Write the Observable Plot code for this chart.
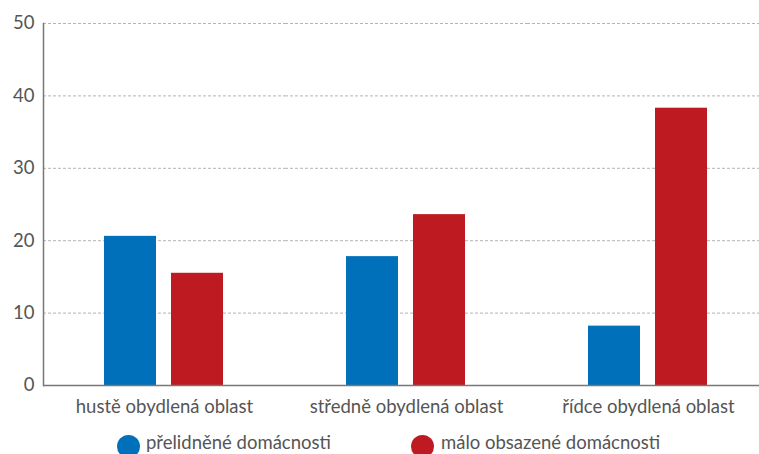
<!DOCTYPE html>
<html><head><meta charset="utf-8">
<script src="https://cdn.jsdelivr.net/npm/d3@7"></script>
<script src="https://cdn.jsdelivr.net/npm/@observablehq/plot@0.6"></script>
<style>
html,body{margin:0;padding:0;background:#fff;overflow:hidden;}
body{width:759px;height:454px;font-family:Lato,"Noto Sans",sans-serif;color:#555;}
#chart{height:428px;}
#legend{position:relative;height:26px;}
.sw{position:absolute;top:7px;width:23px;height:23px;border-radius:50%;}
.lab{position:absolute;top:5px;font-size:18.5px;line-height:18px;white-space:nowrap;color:#555;}
</style></head><body><div id="chart"></div><div id="legend"></div><script>
const categories = ["hustě obydlená oblast", "středně obydlená oblast", "řídce obydlená oblast"];
const seriesNames = ["přelidněné domácnosti", "málo obsazené domácnosti"];
const overcrowded = [20.6, 17.8, 8.2];
const underoccupied = [15.5, 23.6, 38.3];
const yTicks = [0, 10, 20, 30, 40, 50];
const colors = ["#0070ba", "#be1a21"];

const data = categories.flatMap((c, i) => [
  {cat: c, series: seriesNames[0], value: overcrowded[i]},
  {cat: c, series: seriesNames[1], value: underoccupied[i]}
]);

const chart = Plot.plot({
  width: 759, height: 428,
  marginLeft: 42, marginRight: 0, marginTop: 23, marginBottom: 43,
  style: {fontFamily: "Lato, 'Noto Sans', sans-serif", fontSize: "18.5px", color: "#555", background: "#fff", overflow: "hidden"},
  fx: {domain: categories, range: [42, 769], padding: 0, label: null, axis: "bottom", tickSize: 0, tickPadding: 14},
  x: {domain: seriesNames, range: [102, 223], paddingInner: 0.22, paddingOuter: 0, axis: null},
  y: {domain: [0, 50], ticks: yTicks, label: null, axis: null},
  color: {domain: seriesNames, range: colors},
  marks: [
    Plot.gridY(yTicks.slice(1), {stroke: "#b3b3b3", strokeOpacity: 1, strokeDasharray: "3,2"}),
    Plot.barY(data, {fx: "cat", x: "series", y: "value", fill: "series"}),
    Plot.ruleY([0], {stroke: "#777", strokeWidth: 1.5}),
    Plot.frame({anchor: "left", facetAnchor: "left", stroke: "#777", strokeWidth: 1.5}),
    Plot.axisY(yTicks, {tickSize: 0, tickPadding: 9, fill: "#555", fontSize: 18.5, facetAnchor: "left"})
  ]
});
document.getElementById("chart").appendChild(chart);

const legend = document.getElementById("legend");
const swatchX = [117, 411];
const labelX = [146, 441];
seriesNames.forEach((s, i) => {
  const sw = document.createElement("span");
  sw.className = "sw";
  sw.style.left = swatchX[i] + "px";
  sw.style.background = colors[i];
  legend.appendChild(sw);
  const lab = document.createElement("span");
  lab.className = "lab";
  lab.style.left = labelX[i] + "px";
  lab.textContent = s;
  legend.appendChild(lab);
});
</script></body></html>
